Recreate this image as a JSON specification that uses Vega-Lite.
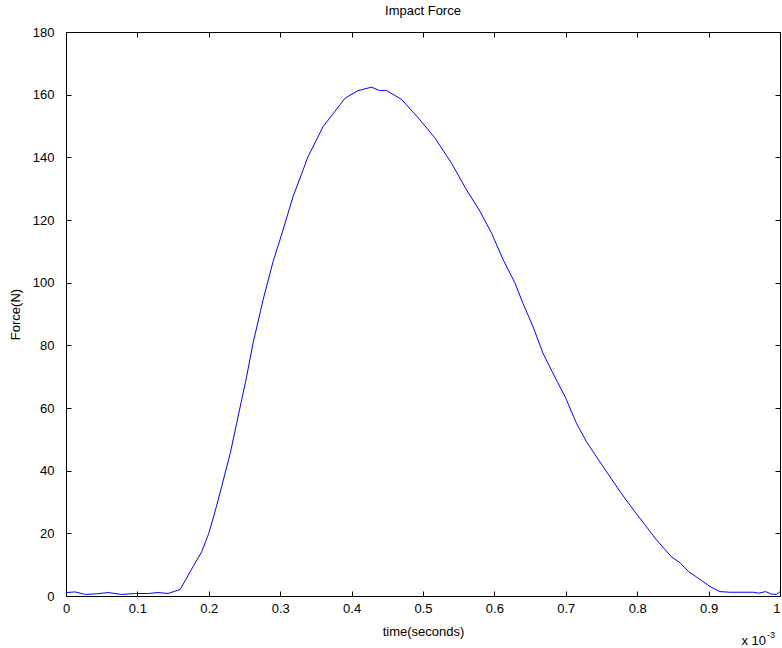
{
  "$schema": "https://vega.github.io/schema/vega-lite/v6.json",
  "width": 714,
  "height": 564,
  "autosize": {"type": "none"},
  "padding": {"left": 66, "top": 32, "right": 2, "bottom": 52},
  "background": "white",
  "title": {"text": "Impact Force", "fontSize": 13, "fontWeight": "normal", "font": "Liberation Sans", "color": "black", "offset": 8},
  "config": {
    "view": {"stroke": null},
    "font": "Liberation Sans",
    "axis": {
      "domainColor": "black",
      "domainWidth": 1,
      "tickColor": "black",
      "tickSize": -5,
      "grid": false,
      "labelFont": "Liberation Sans",
      "labelFontSize": 13,
      "labelColor": "black",
      "titleFont": "Liberation Sans",
      "titleFontSize": 13,
      "titleFontWeight": "normal",
      "titleColor": "black"
    }
  },
  "data": {"values": [
    {"t": 0, "f": 1.1}, {"t": 0.013, "f": 1.3}, {"t": 0.027, "f": 0.5}, {"t": 0.043, "f": 0.7},
    {"t": 0.059, "f": 1.1}, {"t": 0.078, "f": 0.5}, {"t": 0.097, "f": 0.8}, {"t": 0.115, "f": 0.8},
    {"t": 0.129, "f": 1.1}, {"t": 0.143, "f": 0.8}, {"t": 0.16, "f": 2.1}, {"t": 0.178, "f": 9.4},
    {"t": 0.19, "f": 14.1}, {"t": 0.2, "f": 20}, {"t": 0.21, "f": 28}, {"t": 0.218, "f": 34.9},
    {"t": 0.23, "f": 45.5}, {"t": 0.239, "f": 55.1}, {"t": 0.246, "f": 62.6}, {"t": 0.252, "f": 68.9},
    {"t": 0.262, "f": 80.7}, {"t": 0.276, "f": 94.5}, {"t": 0.29, "f": 106.7}, {"t": 0.304, "f": 116.8},
    {"t": 0.318, "f": 127.5}, {"t": 0.339, "f": 140.2}, {"t": 0.36, "f": 149.8}, {"t": 0.391, "f": 158.9},
    {"t": 0.409, "f": 161.3}, {"t": 0.428, "f": 162.4}, {"t": 0.439, "f": 161.3}, {"t": 0.449, "f": 161.3},
    {"t": 0.47, "f": 158.5}, {"t": 0.496, "f": 151.9}, {"t": 0.517, "f": 146.1}, {"t": 0.54, "f": 138.1},
    {"t": 0.561, "f": 129.6}, {"t": 0.58, "f": 122.7}, {"t": 0.596, "f": 115.8}, {"t": 0.6125, "f": 107.2},
    {"t": 0.629, "f": 99.8}, {"t": 0.64, "f": 93.4}, {"t": 0.654, "f": 86.0}, {"t": 0.668, "f": 77.5},
    {"t": 0.682, "f": 71.1}, {"t": 0.699, "f": 63.6}, {"t": 0.715, "f": 55.1}, {"t": 0.729, "f": 49.2},
    {"t": 0.746, "f": 43.4}, {"t": 0.776, "f": 33.3}, {"t": 0.795, "f": 27.4}, {"t": 0.811, "f": 22.7},
    {"t": 0.827, "f": 17.9}, {"t": 0.848, "f": 12.5}, {"t": 0.86, "f": 10.6}, {"t": 0.872, "f": 7.8},
    {"t": 0.886, "f": 5.6}, {"t": 0.902, "f": 3.0}, {"t": 0.916, "f": 1.4}, {"t": 0.93, "f": 1.2},
    {"t": 0.963, "f": 1.2}, {"t": 0.97, "f": 0.9}, {"t": 0.98, "f": 1.4}, {"t": 0.988, "f": 0.6},
    {"t": 0.995, "f": 0.5}, {"t": 1.0, "f": 1.4}
  ]},
  "layer": [
    {
      "mark": {"type": "line", "color": "#0000ff", "strokeWidth": 1, "clip": true},
      "encoding": {
        "x": {"field": "t", "type": "quantitative",
              "scale": {"domain": [0, 1], "nice": false, "zero": false},
              "axis": {"orient": "bottom", "title": "time(seconds)", "values": [0, 0.1, 0.2, 0.3, 0.4, 0.5, 0.6, 0.7, 0.8, 0.9, 1], "format": "~g", "labelPadding": 11, "titlePadding": 10, "labelFlush": false,
                       "labelAlign": {"condition": {"test": "datum.value >= 1", "value": "right"}, "value": "center"},
                       "labelDx": {"condition": {"test": "datum.value >= 1", "value": 2}, "value": 0}}},
        "y": {"field": "f", "type": "quantitative",
              "scale": {"domain": [0, 180], "nice": false},
              "axis": {"orient": "left", "title": "Force(N)", "values": [0, 20, 40, 60, 80, 100, 120, 140, 160, 180], "labelPadding": 17, "titlePadding": 10, "labelFlush": false}}
      }
    },
    {
      "mark": {"type": "line", "strokeOpacity": 0},
      "encoding": {
        "x": {"field": "t", "type": "quantitative",
              "axis": {"orient": "top", "title": null, "labels": false, "values": [0, 0.1, 0.2, 0.3, 0.4, 0.5, 0.6, 0.7, 0.8, 0.9, 1]}},
        "y": {"field": "f", "type": "quantitative",
              "axis": {"orient": "right", "title": null, "labels": false, "values": [0, 20, 40, 60, 80, 100, 120, 140, 160, 180]}}
      }
    },
    {
      "data": {"values": [{"s": "x 10"}]},
      "mark": {"type": "text", "align": "right", "baseline": "alphabetic", "fontSize": 13, "dx": -14, "dy": 49, "color": "black"},
      "encoding": {
        "x": {"datum": 1, "type": "quantitative", "axis": null},
        "y": {"datum": 0, "type": "quantitative", "axis": null},
        "text": {"field": "s"}
      }
    },
    {
      "data": {"values": [{"s": "-3"}]},
      "mark": {"type": "text", "align": "left", "baseline": "alphabetic", "fontSize": 9, "dx": -13, "dy": 42, "color": "black"},
      "encoding": {
        "x": {"datum": 1, "type": "quantitative", "axis": null},
        "y": {"datum": 0, "type": "quantitative", "axis": null},
        "text": {"field": "s"}
      }
    }
  ],
  "resolve": {"axis": {"x": "independent", "y": "independent"}}
}
